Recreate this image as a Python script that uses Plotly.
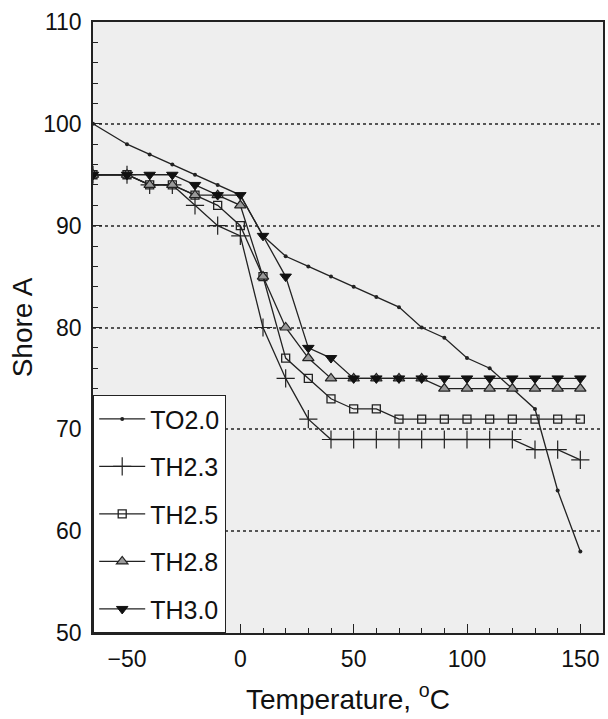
import plotly.graph_objects as go

temps = [-65, -50, -40, -30, -20, -10, 0, 10, 20, 30, 40, 50, 60, 70, 80, 90, 100, 110, 120, 130, 140, 150]

to20 = [100, 98, 97, 96, 95, 94, 93, 89, 87, 86, 85, 84, 83, 82, 80, 79, 77, 76, 74, 72, 64, 58]
th23 = [95, 95, 94, 94, 92, 90, 89, 80, 75, 71, 69, 69, 69, 69, 69, 69, 69, 69, 69, 68, 68, 67]
th25 = [95, 95, 94, 94, 93, 92, 90, 85, 77, 75, 73, 72, 72, 71, 71, 71, 71, 71, 71, 71, 71, 71]
th28 = [95, 95, 94, 94, 93, 93, 92, 85, 80, 77, 75, 75, 75, 75, 75, 74, 74, 74, 74, 74, 74, 74]
th30 = [95, 95, 95, 95, 94, 93, 93, 89, 85, 78, 77, 75, 75, 75, 75, 75, 75, 75, 75, 75, 75, 75]

names = ["TO2.0", "TH2.3", "TH2.5", "TH2.8", "TH3.0"]
series = [to20, th23, th25, th28, th30]

markers = [
    dict(symbol="circle", size=4, color="#222222"),
    dict(symbol="cross-thin", size=13, color="#222222", line=dict(width=1.2, color="#222222")),
    dict(symbol="square-open", size=8, color="#222222", line=dict(width=1.3)),
    dict(symbol="triangle-up", size=10, color="#9a9a9a", line=dict(width=1.2, color="#222222")),
    dict(symbol="triangle-down", size=10, color="#111111", line=dict(width=1, color="#111111")),
]

fig = go.Figure()
for i, (n, s) in enumerate(zip(names, series)):
    fig.add_trace(go.Scatter(
        x=temps, y=s, name=n, mode="lines+markers",
        line=dict(color="#222222", width=1.3),
        marker=markers[i], legendgroup=n,
    ))

font = "Liberation Sans, Arial, sans-serif"
fig.update_layout(
    width=608, height=719,
    margin=dict(l=93, r=3, t=22, b=86),
    paper_bgcolor="white", plot_bgcolor="#eeeeee",
    font=dict(family=font, size=23, color="#111111"),
    showlegend=True,
    legend=dict(
        x=0, y=0, xanchor="left", yanchor="bottom",
        bgcolor="white", bordercolor="#222222", borderwidth=1.2,
        font=dict(size=25), tracegroupgap=12, itemsizing="trace",
        itemwidth=46,
    ),
    xaxis=dict(
        range=[-65, 160], tickvals=[-50, 0, 50, 100, 150],
        showline=True, linecolor="#222222", linewidth=1.5, mirror=True,
        ticks="inside", ticklen=9, tickcolor="#222222",
        minor=dict(dtick=10, tick0=0, ticks="inside", ticklen=5, tickcolor="#222222", showgrid=False),
        showgrid=False, zeroline=False, ticklabelstandoff=5,
        title=dict(text="Temperature, <sup>o</sup>C", standoff=18),
        tickfont=dict(size=23),
    ),
    yaxis=dict(
        range=[50, 110], dtick=10,
        showline=True, linecolor="#222222", linewidth=1.5, mirror=True,
        ticks="inside", ticklen=9, tickcolor="#222222",
        minor=dict(dtick=2, ticks="inside", ticklen=5, tickcolor="#222222", showgrid=False),
        showgrid=True, gridcolor="#555555", griddash="dot", gridwidth=1.5,
        zeroline=False, ticklabelstandoff=5,
        title=dict(text="Shore A", standoff=2),
        tickfont=dict(size=23),
    ),
)

fig.write_html("out.html")
